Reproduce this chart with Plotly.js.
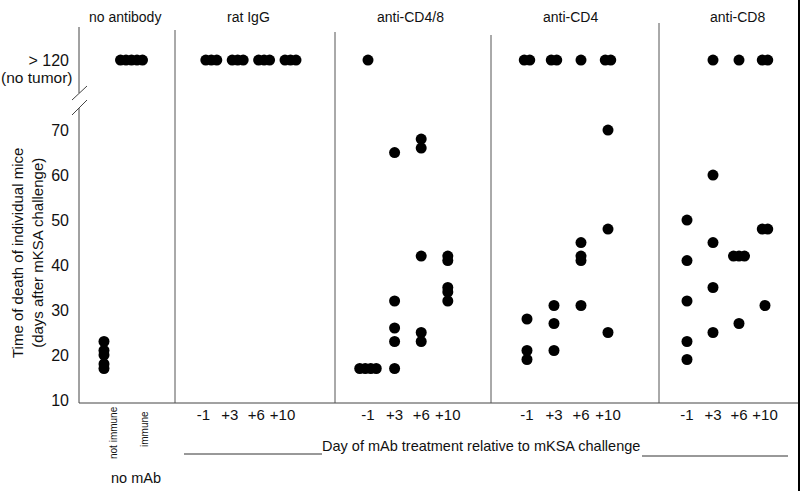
<!DOCTYPE html>
<html>
<head>
<meta charset="utf-8">
<script src="https://cdn.plot.ly/plotly-3.0.1.min.js"></script>
<style>html,body{margin:0;padding:0;background:#fff;}#chart{width:800px;height:491px;}</style>
</head>
<body>
<div id="chart"></div>
<script>
// ---------------- data (days to death; 120 = "> 120 (no tumor)") ----------------
const panelTitles = ['no antibody', 'rat IgG', 'anti-CD4/8', 'anti-CD4', 'anti-CD8'];
const noAbGroups = ['not immune', 'immune'];
const dayLabels = ['-1', '+3', '+6', '+10'];
const yTickValues = [10, 20, 30, 40, 50, 60, 70];
const NO_TUMOR = 120;

const noAbNotImmune = [23, 21, 20, 18, 17];
const noAbImmune = [120, 120, 120, 120, 120];
const ratIgG = [[120, 120, 120], [120, 120, 120], [120, 120, 120], [120, 120, 120]];
const antiCD48 = [[120, 17, 17, 17, 17], [65, 32, 26, 23, 17], [68, 66, 42, 25, 23], [42, 41, 35, 34, 32]];
const antiCD4 = [[120, 120, 28, 21, 19], [120, 120, 31, 27, 21], [120, 45, 42, 41, 31], [120, 120, 70, 48, 25]];
const antiCD8 = [[50, 41, 32, 23, 19], [120, 60, 45, 35, 25], [120, 42, 42, 42, 27], [120, 120, 48, 48, 31]];

// ---------------- layout geometry ----------------
const W = 800, H = 491;
const ML = 79, MT = 27, MB = 88;
const PW = W - ML, PH = H - MT - MB;
const Y0 = 9.333, Y1 = 92.9;               // axis range
const BREAK_POS = 85.56;                   // where "> 120" sits on the broken axis
const px2x = p => (p - ML) / PW;
const px2y = p => (H - MB - p) / PH;
const yDisp = v => (v >= NO_TUMOR ? BREAK_POS : v);

// panel boundaries (px), first-group centre (px), spacing (px per group), tick shift (units)
const panelGeom = [
  { L: 79,  R: 175, g0: 104,   s: 27.5, shift: 0 },
  { L: 175, R: 335, g0: 211.3, s: 26.4, shift: -0.3 },
  { L: 335, R: 491, g0: 368,   s: 26.6, shift: 0 },
  { L: 491, R: 659, g0: 527,   s: 27.0, shift: 0 },
  { L: 659, R: 800, g0: 687,   s: 26.0, shift: 0 }
];
const DOT_STEP_PX = 5.5;

function spreadGroup(values, center, unitPx) {
  const xs = [], ys = [];
  const counts = {};
  values.forEach(v => { counts[v] = (counts[v] || 0) + 1; });
  const seen = {};
  values.forEach(v => {
    const n = counts[v];
    const i = seen[v] || 0;
    seen[v] = i + 1;
    xs.push(center + (i - (n - 1) / 2) * DOT_STEP_PX / unitPx);
    ys.push(yDisp(v));
  });
  return { xs, ys };
}

const panelData = [[noAbNotImmune, noAbImmune], ratIgG, antiCD48, antiCD4, antiCD8];
const traces = [];
panelData.forEach((groups, p) => {
  const g = panelGeom[p];
  const xs = [], ys = [];
  groups.forEach((vals, gi) => {
    const r = spreadGroup(vals, gi, g.s);
    xs.push(...r.xs); ys.push(...r.ys);
  });
  traces.push({
    type: 'scatter', mode: 'markers',
    x: xs, y: ys,
    xaxis: p === 0 ? 'x' : 'x' + (p + 1), yaxis: 'y',
    marker: { color: '#000', size: 11, line: { width: 0 } },
    hoverinfo: 'skip'
  });
});

const layout = {
  width: W, height: H,
  margin: { l: ML, r: 0, t: MT, b: MB, pad: 0 },
  paper_bgcolor: '#fff', plot_bgcolor: '#fff',
  showlegend: false,
  font: { family: 'Liberation Sans, Arial, sans-serif', color: '#000', size: 14 },
  yaxis: {
    range: [Y0, Y1],
    tickvals: yTickValues.concat([BREAK_POS]),
    ticktext: yTickValues.map(String).concat(['> ' + NO_TUMOR]),
    tickfont: { size: 16, color: '#111' },
    ticks: '', ticklabelstandoff: 9,
    showgrid: false, zeroline: false, showline: false, fixedrange: true
  },
  annotations: [],
  shapes: []
};

panelGeom.forEach((g, p) => {
  const key = p === 0 ? 'xaxis' : 'xaxis' + (p + 1);
  const ax = {
    domain: [px2x(g.L), px2x(g.R)],
    range: [(g.L - g.g0) / g.s, (g.R - g.g0) / g.s],
    anchor: 'y',
    showgrid: false, zeroline: false, showline: false, ticks: '',
    fixedrange: true
  };
  if (p === 0) {
    ax.showticklabels = false;
  } else {
    ax.tickvals = dayLabels.map((d, i) => i + g.shift);
    ax.ticktext = dayLabels;
    ax.tickfont = { size: 15, color: '#111' };
    ax.ticklabelstandoff = 1;
  }
  layout[key] = ax;
});

// panel titles
const titleX = [125, 248, 410, 570, 737];
panelTitles.forEach((t, i) => {
  layout.annotations.push({
    text: t, xref: 'paper', yref: 'paper', x: px2x(titleX[i]), y: px2y(17),
    xanchor: 'center', yanchor: 'middle', showarrow: false, font: { size: 14, color: '#111' }
  });
});

// "(no tumor)" second line of the top tick
layout.annotations.push({
  text: '(no tumor)', xref: 'paper', yref: 'paper', x: px2x(75), y: px2y(78),
  xanchor: 'right', yanchor: 'middle', showarrow: false, font: { size: 15.5, color: '#111' }
});

// y axis title
layout.annotations.push({
  text: 'Time of death of individual mice<br>(days after mKSA challenge)',
  xref: 'paper', yref: 'paper', x: px2x(27), y: px2y(253),
  xanchor: 'center', yanchor: 'middle', textangle: -90, showarrow: false,
  font: { size: 15, color: '#111' }
});

// rotated group labels of the no-antibody panel
const noAbLabelX = [113, 145], noAbLabelY = [433, 429];
noAbGroups.forEach((t, i) => {
  layout.annotations.push({
    text: t, xref: 'paper', yref: 'paper', x: px2x(noAbLabelX[i]), y: px2y(noAbLabelY[i]),
    xanchor: 'center', yanchor: 'middle', textangle: -90, showarrow: false,
    font: { size: 10, color: '#111' }
  });
});
layout.annotations.push({
  text: 'no mAb', xref: 'paper', yref: 'paper', x: px2x(136), y: px2y(478),
  xanchor: 'center', yanchor: 'middle', showarrow: false, font: { size: 14.5, color: '#111' }
});
layout.annotations.push({
  text: 'Day of mAb treatment relative to mKSA challenge', xref: 'paper', yref: 'paper',
  x: px2x(481), y: px2y(446), xanchor: 'center', yanchor: 'middle', showarrow: false,
  font: { size: 14.5, color: '#111' }
});

const lineStyle = { color: '#555', width: 1 };
// bottom axis line
layout.shapes.push({ type: 'line', xref: 'paper', yref: 'paper', x0: 0, x1: 1, y0: px2y(403), y1: px2y(403), line: { color: '#444', width: 1 } });
// left axis line with break gap
layout.shapes.push({ type: 'line', xref: 'paper', yref: 'paper', x0: 0, x1: 0, y0: px2y(403), y1: px2y(108), line: { color: '#444', width: 1 } });
layout.shapes.push({ type: 'line', xref: 'paper', yref: 'paper', x0: 0, x1: 0, y0: px2y(93), y1: px2y(27), line: { color: '#444', width: 1 } });
// break slashes
layout.shapes.push({ type: 'line', xref: 'paper', yref: 'paper', x0: px2x(72), x1: px2x(87), y0: px2y(100), y1: px2y(86), line: { color: '#444', width: 1 } });
layout.shapes.push({ type: 'line', xref: 'paper', yref: 'paper', x0: px2x(72), x1: px2x(87), y0: px2y(115), y1: px2y(100), line: { color: '#444', width: 1 } });
// panel dividers
const dividerTop = [30, 32, 35, 23];
[175, 335, 491, 659].forEach((x, i) => {
  layout.shapes.push({ type: 'line', xref: 'paper', yref: 'paper', x0: px2x(x), x1: px2x(x), y0: px2y(403), y1: px2y(dividerTop[i]), line: lineStyle });
});
// right border
layout.shapes.push({ type: 'line', xref: 'paper', yref: 'paper', x0: px2x(799), x1: px2x(799), y0: px2y(0), y1: px2y(491), line: { color: '#000', width: 2 } });
// underline segments around the x title
layout.shapes.push({ type: 'line', xref: 'paper', yref: 'paper', x0: px2x(184), x1: px2x(322), y0: px2y(454), y1: px2y(454), line: { color: '#333', width: 1 } });
layout.shapes.push({ type: 'line', xref: 'paper', yref: 'paper', x0: px2x(642), x1: px2x(788), y0: px2y(456), y1: px2y(456), line: { color: '#333', width: 1 } });

Plotly.newPlot('chart', traces, layout, { displayModeBar: false, staticPlot: true });
</script>
</body>
</html>
